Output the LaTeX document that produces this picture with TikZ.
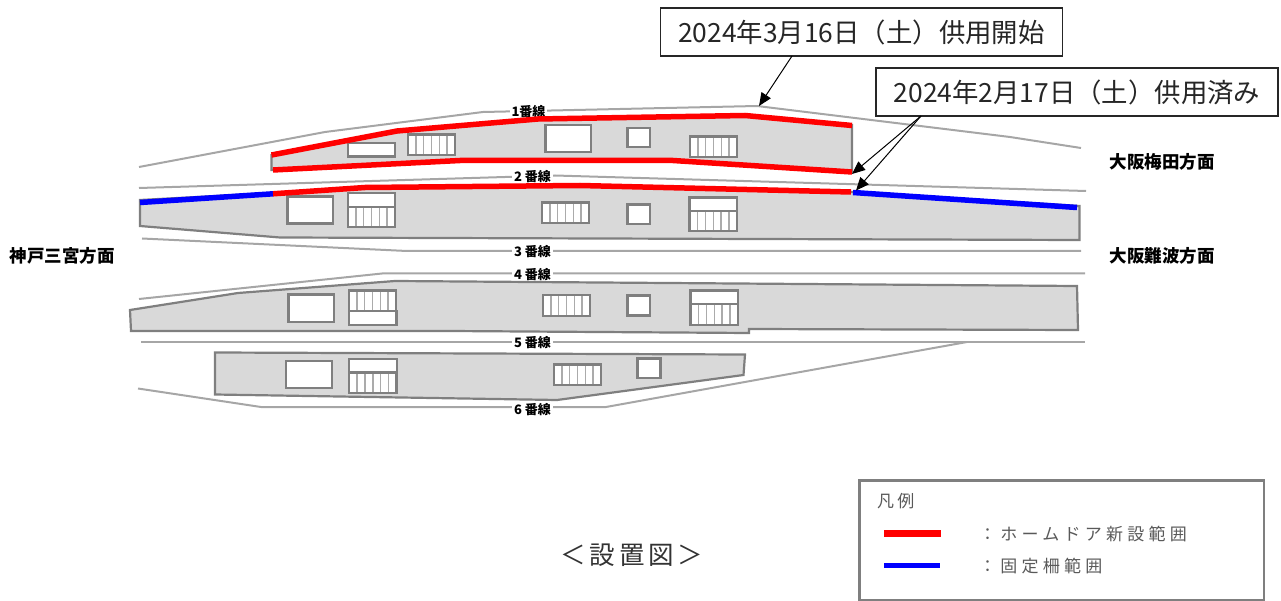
\documentclass[tikz,border=0pt]{standalone}
\usepackage{fontspec}
\setmainfont{Noto Sans CJK JP}
\usetikzlibrary{arrows.meta}
\definecolor{edgegray}{HTML}{7F7F7F}
\definecolor{fillgray}{HTML}{D9D9D9}
\definecolor{trackgray}{HTML}{A6A6A6}
\definecolor{treadgray}{HTML}{ABABAB}
\definecolor{legendtext}{HTML}{595959}
\newcommand{\fsz}[1]{\fontsize{#1}{#1}\selectfont}
\newcommand{\stairbox}[4]{%
  \fill[white] (#1,#2) rectangle (#3,#4);
  \foreach \i in {1,...,5}{\draw[tread] ({#1+\i*(#3-#1)/6},#2) -- ({#1+\i*(#3-#1)/6},#4);}
  \draw[facility] (#1,#2) rectangle (#3,#4);}
\newcommand{\roombox}[4]{\draw[facility,fill=white] (#1,#2) rectangle (#3,#4);}
\tikzset{
  track/.style={trackgray,line width=2pt},
  platform/.style={draw=edgegray,fill=fillgray,line width=2.2pt,line join=miter},
  facility/.style={draw=edgegray,line width=2.2pt},
  tread/.style={treadgray,line width=1.5pt},
  redline/.style={red,line width=5.5pt},
  blueline/.style={blue,line width=5.5pt},
  tracklabel/.style={fill=white,inner sep=2pt,font=\fsz{13}\bfseries},
  dirlabel/.style={font=\fsz{17.5}\bfseries,anchor=west,inner sep=0pt},
  callout/.style={draw=black!85,fill=white,line width=1.8pt,font=\fsz{26.4},text=black!85,inner sep=0pt,minimum height=48pt,minimum width=402pt},
  leader/.style={black,line width=1pt,-{Triangle[length=13pt,width=11pt]}},
  legendlabel/.style={text=legendtext,anchor=west,inner sep=0pt,font=\fsz{17}}
}
\begin{document}
\begin{tikzpicture}[x=1pt,y=-1pt]
\useasboundingbox (0,0) rectangle (1281,601);
% tracks
\draw[track] (139,167) -- (325,132) -- (483,112) -- (757,106) -- (1010,137) -- (1081,148);
\draw[track] (139,188) -- (555,175.5) -- (1086,191);
\draw[track] (142,238.5) -- (407,251) -- (1081,251);
\draw[track] (139,299) -- (382,273.5) -- (1085,273.5);
\draw[track] (141,342) -- (1085,342);
\draw[track] (138,388.5) -- (261,407) -- (606,407) -- (967,342);
\node[tracklabel] (t1) at (528.5,111.5) {1番線};
\node[tracklabel] (t2) at (532.5,176.5) {2 番線};
\node[tracklabel] (t3) at (532.5,251.5) {3 番線};
\node[tracklabel] (t4) at (532.5,274.5) {4 番線};
\node[tracklabel] (t5) at (532.5,343) {5 番線};
\node[tracklabel] (t6) at (532.5,409.5) {6 番線};
% platforms
\draw[platform] (271.5,155) -- (397,131) -- (538,118) -- (745,115) -- (852,125) -- (852,172) -- (673,160.5) -- (460,160.5) -- (271.5,170) -- cycle;
\draw[platform] (140,200) -- (273,193) -- (365,187) -- (580,185) -- (851,192) -- (1079.5,206) -- (1079.5,240) -- (280,237.5) -- (140,226) -- cycle;
\draw[platform] (130,310) -- (238,293) -- (395,281) -- (1077,286) -- (1078,330) -- (749,329) -- (749,333) -- (450,331) -- (131,331) -- cycle;
\draw[platform] (215,352.5) -- (745,354.5) -- (743.5,375) -- (557,400) -- (215,394.5) -- cycle;
% platform 1 facilities
\roombox{348}{143}{395}{156.5}
\stairbox{408}{134.5}{455}{155}
\roombox{545.5}{125}{591}{152}
\roombox{627.5}{128}{650}{147}
\stairbox{690}{136.5}{737}{157}
% platform 2 facilities
\roombox{287.5}{196.5}{333}{223.5}
\roombox{348}{193}{395}{207}
\stairbox{348}{207}{395}{227}
\stairbox{542}{202.5}{589}{223}
\roombox{627.5}{204.5}{650}{224}
\roombox{689.5}{197.5}{737}{211}
\stairbox{689.5}{211}{737}{231}
% platform 3 facilities
\roombox{288.5}{294.5}{334}{322}
\stairbox{349}{290.5}{396}{311}
\roombox{349}{311}{396.5}{325}
\stairbox{543}{295}{590}{316}
\roombox{627.5}{295.5}{650}{315.5}
\roombox{690.5}{290.5}{738}{304}
\stairbox{690.5}{304}{738}{325}
% platform 5 facilities
\roombox{286}{361}{332}{388}
\roombox{349}{359}{397}{372.5}
\stairbox{349}{372.5}{396.5}{393}
\stairbox{554}{364.5}{601}{385}
\roombox{637.5}{358.5}{660.5}{378}
% edge colouring
\draw[redline] (271.5,155) -- (397,131) -- (538,119) -- (745,115.5) -- (852,125.5);
\draw[redline] (273,170) -- (460,160.5) -- (673,160.5) -- (852,172);
\draw[blueline] (140,202.5) -- (273,193.8);
\draw[redline] (273,193.8) -- (365,187.5) -- (580,185.5) -- (851,192);
\draw[blueline] (853,192.5) -- (1077,207.5);
% callouts
\node[callout] (c1) at (861.5,32) {2024年3月16日（土）供用開始};
\node[callout] (c2) at (1077,92) {2024年2月17日（土）供用済み};
\coordinate (c1foot) at (792,56);
\coordinate (c2foot) at (921,116);
\coordinate (tip1) at (759,106);
\coordinate (tip2) at (852,174);
\coordinate (tip3) at (856,190.5);
\draw[leader] (c1foot) -- (tip1);
\draw[leader] (c2foot) -- (tip2);
\draw[leader] (c2foot) -- (tip3);
% direction labels
\node[dirlabel] (d1) at (1109.5,162) {大阪梅田方面};
\node[dirlabel] (d2) at (1109.5,256) {大阪難波方面};
\node[dirlabel] (d3) at (9.5,256) {神戸三宮方面};
% caption
\node[inner sep=0pt,font=\fsz{25.5}\addfontfeature{LetterSpace=15},text=black!80] (cap) at (632,555) {＜設置図＞};
% legend
\draw[edgegray,line width=2.2pt] (859.5,480.5) rectangle (1264,600.5);
\node[legendlabel] (lt) at (877,501) {\addfontfeature{LetterSpace=18}凡例};
\coordinate (r1) at (884,533.5);
\coordinate (r2) at (941,533.5);
\coordinate (b1) at (884,565.5);
\coordinate (b2) at (940,565.5);
\draw[red,line width=6.5pt] (r1) -- (r2);
\draw[blue,line width=5.5pt] (b1) -- (b2);
\node[legendlabel] (l1) at (979,534) {\addfontfeature{LetterSpace=25}：ホームドア新設範囲};
\node[legendlabel] (l2) at (979,566) {\addfontfeature{LetterSpace=25}：固定柵範囲};
\end{tikzpicture}
\end{document}
